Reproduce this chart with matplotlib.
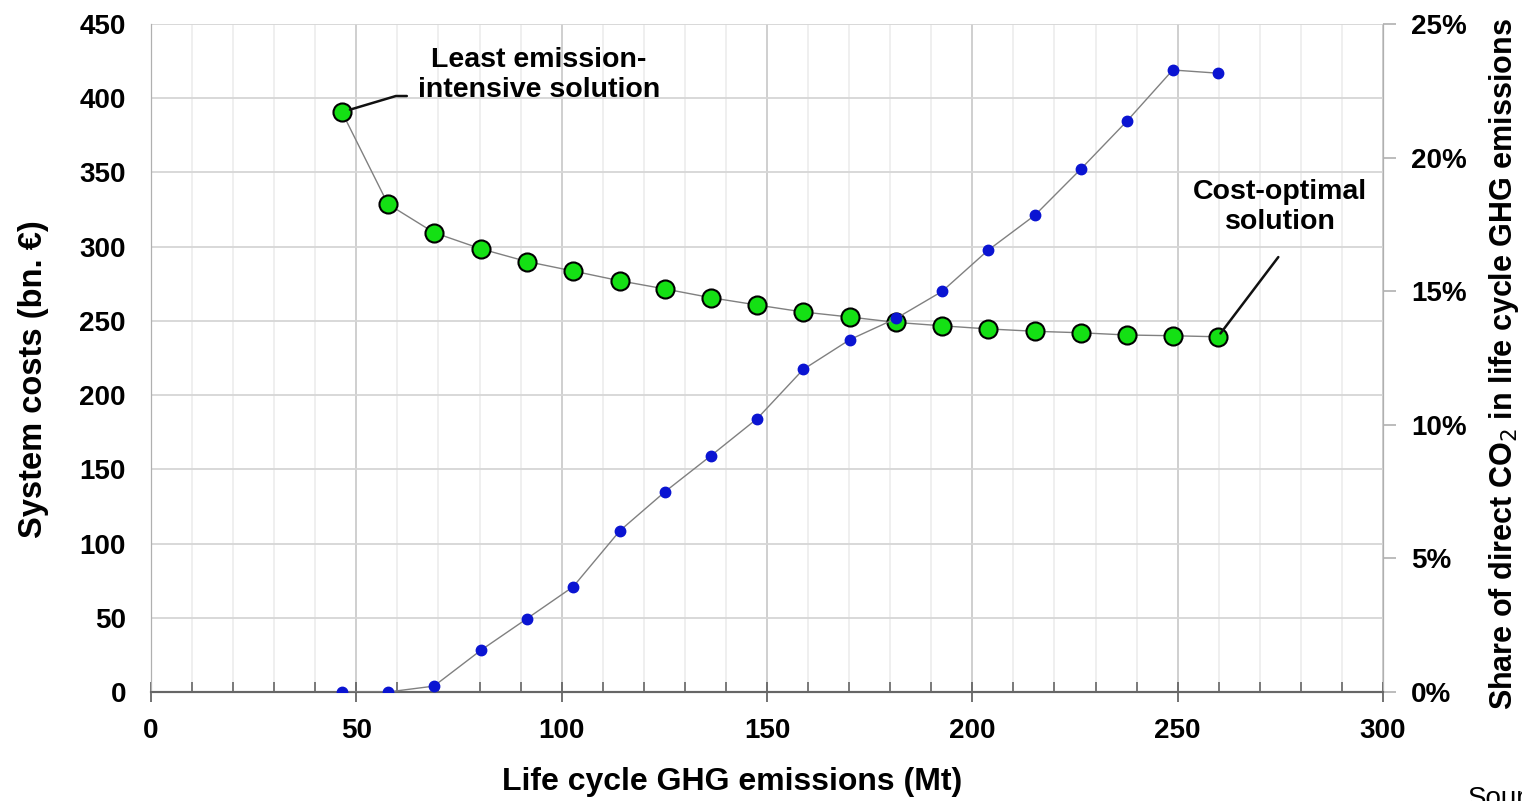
import matplotlib.pyplot as plt
from matplotlib.ticker import MultipleLocator, FuncFormatter

plt.rcParams['font.family'] = ['Liberation Sans', 'DejaVu Sans']

# life cycle GHG emissions (Mt) of each solution on the Pareto front
emissions = [46.5, 57.7, 68.9, 80.4, 91.5, 102.8, 114.2, 125.2, 136.4, 147.6,
             158.8, 170.2, 181.4, 192.6, 203.8, 215.2, 226.4, 237.6, 248.8, 259.8]
# system costs (bn. EUR)
costs = [390.7, 328.7, 309.5, 298.5, 290.0, 283.6, 277.0, 271.5, 265.6, 260.7,
         256.0, 252.6, 249.0, 246.7, 244.6, 243.0, 242.0, 240.5, 240.0, 239.3]
# share of direct CO2 in life cycle GHG emissions (%)
co2_share = [0.0, 0.0, 0.22, 1.57, 2.74, 3.94, 6.04, 7.5, 8.85, 10.23,
             12.07, 13.19, 13.98, 14.99, 16.53, 17.84, 19.57, 21.36, 23.28, 23.16]

fig = plt.figure(figsize=(15.22, 8.01), dpi=100)
ax = fig.add_axes([0.0992, 0.1361, 0.8095, 0.8339])
ax2 = ax.twinx()

# grid
ax.set_xlim(0, 300)
ax.set_ylim(0, 450)
ax.xaxis.set_major_locator(MultipleLocator(50))
ax.xaxis.set_minor_locator(MultipleLocator(10))
ax.yaxis.set_major_locator(MultipleLocator(50))
ax.grid(which='major', axis='x', color='#cccccc', lw=1.3)
ax.grid(which='minor', axis='x', color='#ececec', lw=1.2)
ax.grid(which='major', axis='y', color='#d6d6d6', lw=1.3)
ax.set_axisbelow(True)

ax.plot(emissions, costs, color='#808080', lw=1, marker='o', ms=13,
        mfc='#14e014', mec='black', mew=1.5, zorder=3)

ax2.set_ylim(0, 0.25)
ax2.yaxis.set_major_locator(MultipleLocator(0.05))
ax2.yaxis.set_major_formatter(FuncFormatter(lambda v, p: f'{v * 100:.0f}%'))
ax2.plot(emissions, [s / 100 for s in co2_share], color='#808080', lw=1,
         marker='o', ms=7.5, mfc='#0a14d2', mec='#0a14d2', zorder=3)

# spines and ticks
for a in (ax, ax2):
    a.spines['top'].set_visible(False)
    a.spines['left'].set_color('#b0b0b0')
    a.spines['right'].set_color('#b0b0b0')
    a.spines['bottom'].set_color('#666666')
    a.spines['bottom'].set_linewidth(1.5)

ax.tick_params(axis='y', length=0, pad=18, labelsize=20)
ax.tick_params(axis='x', which='major', direction='inout', length=14, width=1.3,
               color='#666666', pad=12, labelsize=20)
ax.tick_params(axis='x', which='minor', direction='in', length=7, width=1.2,
               color='#666666')
ax2.tick_params(axis='y', direction='out', length=9, width=1.2, color='#b0b0b0',
                pad=11, labelsize=20)
for lab in ax.get_xticklabels() + ax.get_yticklabels() + ax2.get_yticklabels():
    lab.set_fontweight('bold')

ax.set_xlabel('Life cycle GHG emissions (Mt)', fontsize=23, fontweight='bold')
ax.xaxis.set_label_coords(0.472, -0.113)
ax.set_ylabel('System costs (bn. €)', fontsize=23.5, fontweight='bold')
ax.yaxis.set_label_coords(-0.0828, 0.4686)
ax2.set_ylabel('Share of direct CO$_2$ in life cycle GHG emissions', fontsize=22,
               fontweight='bold')
ax2.yaxis.set_label_coords(1.0844, 0.491)

# annotations
ax.annotate('', xy=(emissions[0], costs[0]), xytext=(62.3, 401.5),
            arrowprops=dict(arrowstyle='-', color='#111111', lw=1.8,
                            shrinkA=0, shrinkB=6,
                            connectionstyle='arc,angleA=180,armA=11,angleB=25,armB=0,rad=0'))
ax.text(94.5, 415.8, 'Least emission-\nintensive solution', fontsize=20.5,
        fontweight='bold', ha='center', va='center', linespacing=1.2)
ax.annotate('', xy=(emissions[-1], costs[-1]), xytext=(274.5, 293),
            arrowprops=dict(arrowstyle='-', color='#111111', lw=1.8,
                            shrinkA=0, shrinkB=3))
ax.text(274.9, 326.5, 'Cost-optimal\nsolution', fontsize=20.5, fontweight='bold',
        ha='center', va='center', linespacing=1.2)

fig.text(0.9645, 0.0187, 'Source', fontsize=20, ha='left', va='top')

fig.savefig('out.png', dpi=100)
